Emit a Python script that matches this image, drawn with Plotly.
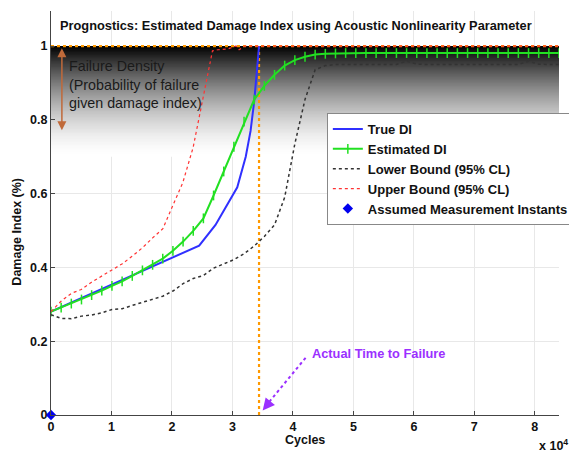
import plotly.graph_objects as go

# ---------------- data ----------------
est_cycles = [0, 1680, 3360, 5040, 6720, 8400, 10080, 11760, 13440, 15120,
              16800, 18480, 20160, 21840, 23520, 25200, 26880, 28560, 30240, 31920,
              33600, 35280, 36960, 38640, 40320, 42000, 43680, 45360, 47040, 48720,
              50400, 52080, 53760, 55440, 57120, 58800, 60480, 62160, 63840, 65520,
              67200, 68880, 70560, 72240, 73920, 75600, 77280, 78960, 80640, 82320,
              84000]
est_di = [0.280, 0.291, 0.302, 0.313, 0.325, 0.337, 0.350, 0.362, 0.377, 0.392,
          0.407, 0.424, 0.445, 0.470, 0.499, 0.533, 0.595, 0.660, 0.727, 0.795,
          0.855, 0.892, 0.922, 0.947, 0.962, 0.971, 0.977, 0.979, 0.980, 0.981,
          0.981, 0.981, 0.981, 0.981, 0.981, 0.981, 0.981, 0.981, 0.981, 0.981,
          0.981, 0.981, 0.981, 0.981, 0.981, 0.981, 0.981, 0.981, 0.981, 0.981,
          0.981]
lower_di = [0.272, 0.262, 0.261, 0.268, 0.271, 0.277, 0.286, 0.288, 0.297, 0.306,
            0.314, 0.322, 0.336, 0.356, 0.370, 0.378, 0.398, 0.410, 0.421, 0.437,
            0.458, 0.484, 0.515, 0.590, 0.735, 0.855, 0.936, 0.947, 0.950, 0.950,
            0.950, 0.950, 0.950, 0.950, 0.950, 0.959, 0.951, 0.950, 0.950, 0.950,
            0.950, 0.950, 0.950, 0.950, 0.950, 0.950, 0.950, 0.959, 0.951, 0.950,
            0.950]

upper_cycles = [0, 1700, 3400, 5000, 6700, 8400, 10100, 11800, 13400, 15100,
                16800, 18500, 20200, 21800, 23500, 25200, 26700, 27600, 29200,
                30600, 31100, 32000, 34400, 84000]
upper_di = [0.280, 0.309, 0.330, 0.340, 0.360, 0.376, 0.394, 0.410, 0.430, 0.453,
            0.480, 0.505, 0.570, 0.630, 0.725, 0.860, 0.987, 0.990, 0.992,
            1.000, 0.990, 1.000, 1.000, 1.000]

true_cycles = [0, 24500, 27200, 30800, 32200, 33000, 33600, 34200, 34400]
true_di = [0.280, 0.459, 0.515, 0.617, 0.700, 0.770, 0.850, 0.970, 1.000]

meas_cycles = [0]
meas_di = [0]

failure_cycles = 34400
failure_threshold = 1.0
x_max = 84000

x_tickvals = [0, 10000, 20000, 30000, 40000, 50000, 60000, 70000, 80000]
x_ticktext = ["0", "1", "2", "3", "4", "5", "6", "7", "8"]
y_tickvals = [0, 0.2, 0.4, 0.6, 0.8, 1.0]
y_ticktext = ["0", "0.2", "0.4", "0.6", "0.8", "1"]

FONT = "Liberation Sans, Arial, sans-serif"

fig = go.Figure()

# failure threshold / time-to-failure reference lines
fig.add_trace(go.Scatter(x=[0, x_max], y=[failure_threshold, failure_threshold],
                         mode="lines", line=dict(color="#ff9900", width=2.3, dash="dot"),
                         showlegend=False, hoverinfo="skip"))
fig.add_trace(go.Scatter(x=[failure_cycles, failure_cycles], y=[0, failure_threshold],
                         mode="lines", line=dict(color="#ff9900", width=2.2, dash="dot"),
                         showlegend=False, hoverinfo="skip"))

fig.add_trace(go.Scatter(x=true_cycles, y=true_di, mode="lines", name="True DI",
                         line=dict(color="#3030ff", width=2)))
fig.add_trace(go.Scatter(x=est_cycles, y=est_di, mode="lines+markers", name="Estimated DI",
                         line=dict(color="#22e022", width=2),
                         marker=dict(symbol="line-ns", size=7,
                                     line=dict(color="#22e022", width=1.5))))
fig.add_trace(go.Scatter(x=est_cycles, y=lower_di, mode="lines",
                         name="Lower Bound (95% CL)",
                         line=dict(color="#333333", width=1.5, dash="dot")))
fig.add_trace(go.Scatter(x=upper_cycles, y=upper_di, mode="lines",
                         name="Upper Bound (95% CL)",
                         line=dict(color="#ff3333", width=1.2, dash="dot")))
fig.add_trace(go.Scatter(x=meas_cycles, y=meas_di, mode="markers",
                         name="Assumed Measurement Instants",
                         marker=dict(symbol="diamond", size=8, color="#0000ee"),
                         cliponaxis=False))

# failure-density gradient (black at DI=1 fading to white)
shapes = []
n_bands = 75
g_bottom = 0.70
span = failure_threshold - g_bottom
for k in range(n_bands):
    y0 = g_bottom + span * k / n_bands
    y1 = g_bottom + span * (k + 1) / n_bands
    frac = (failure_threshold - (y0 + y1) / 2) / span
    g = int(round(255 * (1 - (1 - frac) ** 1.6)))
    shapes.append(dict(type="rect", xref="x", yref="y", x0=0, x1=x_max,
                       y0=y0, y1=min(failure_threshold, y1 + 0.003),
                       fillcolor=f"rgb({g},{g},{g})", line=dict(width=0), layer="between"))
# dotted purple arrow shaft
shapes.append(dict(type="line", xref="x", yref="y", x0=42100, y0=0.155, x1=35300, y1=0.02,
                   line=dict(color="#9b30ff", width=2, dash="dot")))

annotations = [
    dict(text="<b>Prognostics: Estimated Damage Index using Acoustic Nonlinearity Parameter</b>",
         xref="paper", yref="paper", x=0.482, y=0.965, showarrow=False,
         font=dict(family=FONT, size=12.8, color="#111111"), xanchor="center", yanchor="middle"),
    dict(text="Failure Density<br>(Probability of failure<br>given damage index)",
         xref="x", yref="y", x=2700, y=0.895, showarrow=False, align="left",
         xanchor="left", yanchor="middle",
         font=dict(family=FONT, size=14.3, color="#1a1a1a")),
    # double-headed brown arrow
    dict(text="", xref="x", yref="y", x=1800, y=0.772, ax=1800, ay=0.998,
         axref="x", ayref="y", showarrow=True, arrowhead=2, startarrowhead=2,
         arrowside="end+start", arrowsize=1.2, arrowwidth=1.5, arrowcolor="#c06a3a"),
    dict(text="<b>Actual Time to Failure</b>", xref="x", yref="y", x=42900, y=0.168,
         showarrow=False, xanchor="left", yanchor="middle",
         font=dict(family=FONT, size=12.8, color="#9b30ff")),
    dict(text="", xref="x", yref="y", x=35000, y=0.012, ax=35900, ay=0.030,
         axref="x", ayref="y", showarrow=True, arrowhead=2, arrowsize=1.2,
         arrowwidth=2, arrowcolor="#9b30ff"),
    dict(text="<b>Damage Index (%)</b>", xref="paper", yref="paper", x=-0.066, y=0.455,
         showarrow=False, textangle=-90, xanchor="center", yanchor="middle",
         font=dict(family=FONT, size=12.5, color="#111111")),
    dict(text="<b>Cycles</b>", xref="paper", yref="paper", x=0.5, y=-0.063,
         showarrow=False, xanchor="center", yanchor="middle",
         font=dict(family=FONT, size=12.5, color="#111111")),
    dict(text="<b>x 10<sup>4</sup></b>", xref="paper", yref="paper", x=1.022, y=-0.074,
         showarrow=False, xanchor="right", yanchor="middle",
         font=dict(family=FONT, size=12.5, color="#111111")),
]

# the page body has an 8px margin, so the figure is sized/offset to compensate
fig.update_layout(
    width=569, height=444,
    margin=dict(l=43, r=16, t=3, b=37),
    paper_bgcolor="white", plot_bgcolor="white",
    font=dict(family=FONT, size=12, color="#111111"),
    shapes=shapes, annotations=annotations,
    legend=dict(x=0.543, y=0.7475, xanchor="left", yanchor="top",
                bgcolor="white", bordercolor="#888888", borderwidth=1,
                font=dict(family=FONT, size=13, color="#111111", weight="bold"),
                tracegroupgap=0, itemwidth=30),
    showlegend=True,
)
fig.update_xaxes(range=[0, x_max], tickvals=x_tickvals, ticktext=x_ticktext,
                 showgrid=True, gridcolor="#e8e8e8", gridwidth=1,
                 zeroline=False, showline=True, linecolor="#444444", linewidth=1,
                 ticks="inside", ticklen=4, tickcolor="#444444",
                 tickfont=dict(family=FONT, size=12.5, color="#111111", weight="bold"))
fig.update_yaxes(range=[0, 1.095], tickvals=y_tickvals, ticktext=y_ticktext,
                 showgrid=True, gridcolor="#e8e8e8", gridwidth=1,
                 zeroline=False, showline=True, linecolor="#444444", linewidth=1,
                 ticks="inside", ticklen=4, tickcolor="#444444",
                 tickfont=dict(family=FONT, size=12.5, color="#111111", weight="bold"))

fig.write_html("out.html")
